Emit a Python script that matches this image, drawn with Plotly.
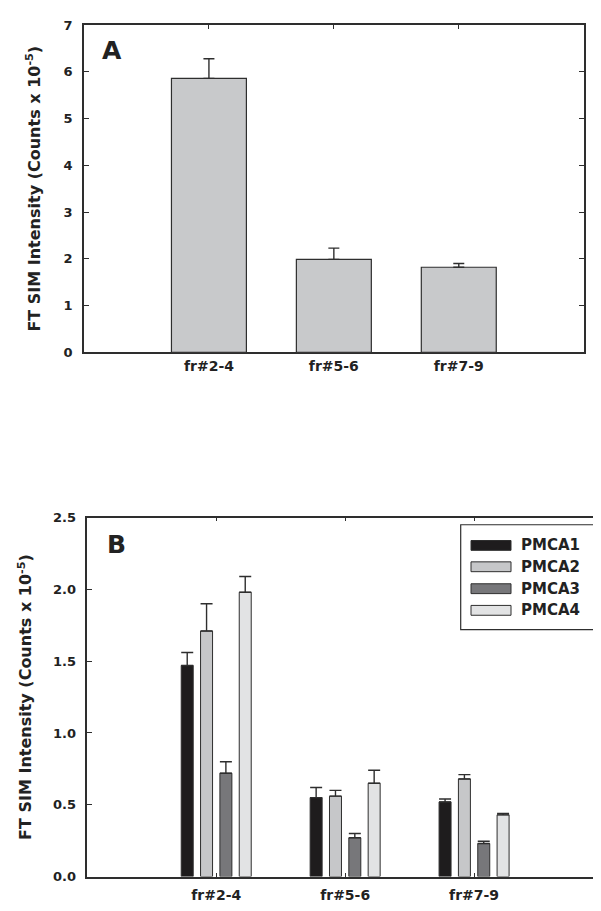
import plotly.graph_objects as go

# ---- data ----
categories = ["fr#2-4", "fr#5-6", "fr#7-9"]

# Panel A
a_values = [5.86, 1.99, 1.82]
a_errors = [0.42, 0.24, 0.08]

# Panel B
series_names = ["PMCA1", "PMCA2", "PMCA3", "PMCA4"]
pmca1 = [1.47, 0.55, 0.52]
pmca2 = [1.71, 0.56, 0.68]
pmca3 = [0.72, 0.27, 0.23]
pmca4 = [1.98, 0.65, 0.43]
pmca1_err = [0.09, 0.07, 0.02]
pmca2_err = [0.19, 0.04, 0.03]
pmca3_err = [0.08, 0.03, 0.016]
pmca4_err = [0.11, 0.09, 0.01]

a_yticks = [0, 1, 2, 3, 4, 5, 6, 7]
b_yticks = [0.0, 0.5, 1.0, 1.5, 2.0, 2.5]

colors_b = ["#1e1c1d", "#c6c7c9", "#77777a", "#e2e3e4"]
color_a = "#c8c9cb"
edge = "#2e2e2e"
font_family = "DejaVu Sans"
text_color = "#222222"

W, H = 601, 911

fig = go.Figure()

xpos = list(range(len(categories)))

fig.add_trace(go.Bar(
    x=xpos, y=a_values, width=0.6,
    marker=dict(color=color_a, line=dict(color=edge, width=1.2)),
    error_y=dict(type="data", symmetric=False, array=a_errors,
                 arrayminus=[0] * len(a_errors), color=edge, thickness=1.4, width=5.5),
    xaxis="x", yaxis="y", showlegend=False,
))

b_vals = [pmca1, pmca2, pmca3, pmca4]
b_errs = [pmca1_err, pmca2_err, pmca3_err, pmca4_err]
for name, vals, errs, col in zip(series_names, b_vals, b_errs, colors_b):
    fig.add_trace(go.Bar(
        x=xpos, y=vals, name=name,
        marker=dict(color=col, line=dict(color=edge, width=1.0)),
        error_y=dict(type="data", symmetric=False, array=errs,
                     arrayminus=[0] * len(errs), color=edge, thickness=1.4, width=6),
        xaxis="x2", yaxis="y2", showlegend=False,
    ))

def px_x(p):
    return p / W

def px_y(p):
    return 1 - p / H

axis_common = dict(
    showline=True, linecolor=edge, linewidth=1.5, mirror="ticks",
    ticks="inside", ticklen=5, tickwidth=1.3, tickcolor=edge,
    showgrid=False, zeroline=False, layer="below traces",
    tickfont=dict(family=font_family, size=13, color=text_color, weight="bold"),
)
xtickfont = dict(family=font_family, size=14, color=text_color, weight="bold")

ytitle = "FT SIM Intensity (Counts x 10<sup>-5</sup>)"

fig.update_layout(
    width=W, height=H,
    margin=dict(l=0, r=0, t=0, b=0),
    paper_bgcolor="white", plot_bgcolor="white",
    barmode="group", bargap=0.4, bargroupgap=0.38,
    font=dict(family=font_family, color=text_color),
    xaxis=dict(axis_common, domain=[px_x(76), px_x(575.7)], range=[-1, 3],
               tickvals=xpos, ticktext=categories,
               anchor="y", ticklen=4, tickfont=xtickfont),
    yaxis=dict(axis_common, domain=[px_y(343), px_y(10.3)], range=[0, 7],
               tickvals=a_yticks, ticktext=[str(v) for v in a_yticks],
               anchor="x", ticklabelstandoff=7,
               title=dict(text=ytitle,
                          font=dict(size=16, family=font_family, weight="bold"), standoff=19)),
    xaxis2=dict(axis_common, domain=[px_x(79.3), px_x(595)], range=[-1, 3],
                tickvals=xpos, ticktext=categories,
                anchor="y2", ticklen=4, tickfont=xtickfont, ticklabelstandoff=5),
    yaxis2=dict(axis_common, domain=[px_y(876), px_y(511)], range=[0, 2.5],
                tickvals=b_yticks, ticktext=[f"{v:.1f}" for v in b_yticks],
                anchor="x2", ticklabelstandoff=7,
                title=dict(text=ytitle,
                           font=dict(size=16, family=font_family, weight="bold"), standoff=17)),
)

# panel labels
fig.add_annotation(text="A", x=px_x(92), y=px_y(36), xref="paper", yref="paper",
                   xanchor="left", yanchor="middle", showarrow=False,
                   font=dict(size=25, family=font_family, color=text_color, weight="bold"))
fig.add_annotation(text="B", x=px_x(97), y=px_y(538), xref="paper", yref="paper",
                   xanchor="left", yanchor="middle", showarrow=False,
                   font=dict(size=25, family=font_family, color=text_color, weight="bold"))

# custom legend box
fig.add_shape(type="rect", xref="paper", yref="paper",
              x0=px_x(452.7), x1=px_x(586.7), y0=px_y(625), y1=px_y(518.3),
              line=dict(color=edge, width=1.2), fillcolor="white", layer="above")
row_y = [539.3, 561, 583.3, 605.3]
for name, col, ry in zip(series_names, colors_b, row_y):
    fig.add_shape(type="rect", xref="paper", yref="paper",
                  x0=px_x(463), x1=px_x(503), y0=px_y(ry + 5), y1=px_y(ry - 5),
                  line=dict(color=edge, width=1), fillcolor=col, layer="above")
    fig.add_annotation(text=name, x=px_x(511), y=px_y(ry),
                       xref="paper", yref="paper", xanchor="left", yanchor="middle",
                       showarrow=False,
                       font=dict(size=15, family=font_family, color=text_color, weight="bold"))

fig.write_html("out.html")
